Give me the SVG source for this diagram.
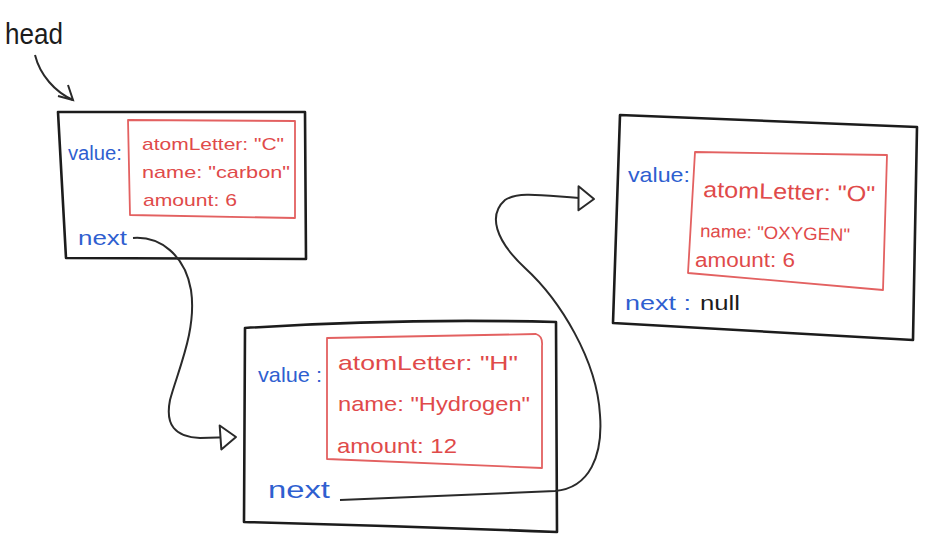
<svg xmlns="http://www.w3.org/2000/svg" width="928" height="551" viewBox="0 0 928 551">
<style>
.box{fill:none;stroke:#1c1c1c;stroke-width:2.6;stroke-linejoin:round}
.inner{fill:none;stroke:#e36161;stroke-width:1.8;stroke-linejoin:round}
.conn{fill:none;stroke:#2a2a2a;stroke-width:2}
.blue{fill:#2f5fd0;font-family:"Liberation Sans",sans-serif}
.red{fill:#e04a4a;font-family:"Liberation Sans",sans-serif}
.blk{fill:#1c1c1c;font-family:"Liberation Sans",sans-serif}
</style>
<defs>
<marker id="open" viewBox="0 0 20 28" refX="18" refY="14" markerUnits="userSpaceOnUse" markerWidth="20" markerHeight="28" orient="auto">
<path d="M2,2 L18,14 L3,26 Z" fill="#fff" stroke="#2a2a2a" stroke-width="2" stroke-linejoin="round"/>
</marker>
</defs>
<rect width="928" height="551" fill="#fff"/>

<g id="head">
<text class="blk" x="5" y="44" font-size="30" textLength="58" lengthAdjust="spacingAndGlyphs">head</text>
</g>

<g id="node-carbon">
<path class="box" d="M58,112 L305,112 L306,259 L66,258 Z"/>
<path class="inner" d="M128,120 L295,121 L295,218 L130,215 Z"/>
<text class="blue" x="68" y="160" font-size="20" textLength="54" lengthAdjust="spacingAndGlyphs">value:</text>
<text class="red" x="142" y="150" font-size="17" textLength="142" lengthAdjust="spacingAndGlyphs">atomLetter: "C"</text>
<text class="red" x="142" y="178" font-size="17" textLength="148" lengthAdjust="spacingAndGlyphs">name: "carbon"</text>
<text class="red" x="143" y="206" font-size="17" textLength="94" lengthAdjust="spacingAndGlyphs">amount: 6</text>
<text class="blue" x="78" y="245" font-size="20" textLength="49" lengthAdjust="spacingAndGlyphs">next</text>
</g>

<g id="node-hydrogen">
<path class="box" d="M245,328 Q400,318 556,322 L557,532 Q400,526 244,522 Z"/>
<path class="inner" d="M327,338 L536,334 Q543,336 542,346 L542,468 L327,459 Z"/>
<text class="blue" x="258" y="382" font-size="21" textLength="64" lengthAdjust="spacingAndGlyphs">value :</text>
<text class="red" x="338" y="370" font-size="21" textLength="180" lengthAdjust="spacingAndGlyphs">atomLetter: "H"</text>
<text class="red" x="338" y="411" font-size="21" textLength="192" lengthAdjust="spacingAndGlyphs">name: "Hydrogen"</text>
<text class="red" x="337" y="453" font-size="21" textLength="120" lengthAdjust="spacingAndGlyphs">amount: 12</text>
<text class="blue" x="268" y="498" font-size="24" textLength="62" lengthAdjust="spacingAndGlyphs">next</text>
</g>

<g id="node-oxygen">
<path class="box" d="M620,115 L917,127 L913,340 L613,323 Z"/>
<path class="inner" d="M695,152 L887,155 L883,290 L688,273 Z"/>
<text class="blue" x="628" y="182" font-size="21" textLength="62" lengthAdjust="spacingAndGlyphs">value:</text>
<text class="red" x="703" y="197" font-size="22" textLength="172" lengthAdjust="spacingAndGlyphs" transform="rotate(1.5 703 197)">atomLetter: "O"</text>
<text class="red" x="700" y="237" font-size="18" textLength="150" lengthAdjust="spacingAndGlyphs" transform="rotate(1.5 700 237)">name: "OXYGEN"</text>
<text class="red" x="695" y="267" font-size="20" textLength="100" lengthAdjust="spacingAndGlyphs">amount: 6</text>
<text class="blue" x="625" y="310" font-size="21" textLength="66" lengthAdjust="spacingAndGlyphs">next :</text>
<text class="blk" x="700" y="310" font-size="20" textLength="40" lengthAdjust="spacingAndGlyphs">null</text>
</g>

<g id="connectors">
<path class="conn" d="M35,55 C40,75 55,92 73,100"/>
<polyline class="conn" points="58,96 73,100 68,85"/>
<path class="conn" marker-end="url(#open)" d="M133,238 C160,236 185,255 191,290 C197,330 178,370 170,400 C165,425 175,437 200,438 L236,437"/>
<path class="conn" marker-end="url(#open)" d="M340,500 L555,491 C590,488 603,455 600,415 C597,360 560,300 525,268 C495,240 488,215 505,200 C520,190 550,197 594,199"/>
</g>
</svg>
